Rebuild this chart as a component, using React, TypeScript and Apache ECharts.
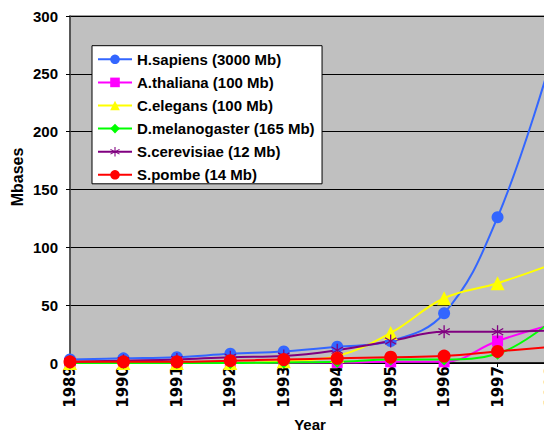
import React, { useEffect, useRef } from 'react';
import * as echarts from 'echarts';

const years = ['1989', '1990', '1991', '1992', '1993', '1994', '1995', '1996', '1997', '1998'];
const hSapiens = [3, 4, 5, 8, 10, 14, 19, 43, 126, 262];
const aThaliana = [0, 0, 0, 0, 0.5, 0.5, 1, 1, 19, 33];
const cElegans = [0, 0, 0, 0, 1.5, 6, 26, 56, 69, 85];
const dMelanogaster = [0, 0, 0, 0, 0.5, 1, 3, 3, 8, 36];
const sCerevisiae = [1, 2, 3, 5, 6, 11, 19, 27, 27, 28];
const sPombe = [1, 1, 1, 2, 3, 4, 5, 6, 10, 14];
const yTicks = { min: 0, max: 300, interval: 50 };

function bar(x1: number, y1: number, x2: number, y2: number, t: number) {
  const dx = x2 - x1, dy = y2 - y1;
  const len = Math.sqrt(dx * dx + dy * dy);
  const nx = (-dy / len) * t, ny = (dx / len) * t;
  const f = (v: number) => v.toFixed(2);
  return `M${f(x1 + nx)},${f(y1 + ny)}L${f(x2 + nx)},${f(y2 + ny)}L${f(x2 - nx)},${f(y2 - ny)}L${f(x1 - nx)},${f(y1 - ny)}Z`;
}
const starPath =
  'path://' +
  bar(10, 0, 10, 20, 1) +
  bar(1.34, 5, 18.66, 15, 1) +
  bar(1.34, 15, 18.66, 5, 1);

const FONT = '"Liberation Sans", Arial, sans-serif';

function mk(name: string, data: number[], color: string, symbol: string, size: number | number[]) {
  return {
    name,
    type: 'line',
    data,
    smooth: 0.4,
    symbol,
    symbolSize: size,
    showAllSymbol: true,
    lineStyle: { color, width: 2 },
    itemStyle: { color },
    emphasis: { disabled: true },
  };
}

export default function App() {
  const ref = useRef<HTMLDivElement>(null);
  useEffect(() => {
    if (!ref.current) return;
    const chart = echarts.init(ref.current, undefined, { renderer: 'svg', width: 551, height: 432 });
    chart.setOption({
      animation: false,
      backgroundColor: '#ffffff',
      grid: {
        left: 70,
        top: 16,
        right: 0,
        bottom: 69,
        containLabel: false,
        outerBoundsMode: 'none',
        show: true,
        backgroundColor: '#c0c0c0',
        borderColor: '#808080',
        borderWidth: 1.5,
      },
      legend: {
        orient: 'vertical',
        left: 92,
        top: 45.7,
        padding: [5.6, 7.5, 1, 5],
        backgroundColor: '#ffffff',
        borderColor: '#000000',
        borderWidth: 1,
        itemWidth: 34,
        itemHeight: 12,
        itemGap: 7.1,
        textStyle: { fontFamily: FONT, fontWeight: 'bold', fontSize: 15, color: '#000', lineHeight: 16 },
        data: [
          'H.sapiens (3000 Mb)',
          'A.thaliana (100 Mb)',
          'C.elegans (100 Mb)',
          'D.melanogaster (165 Mb)',
          'S.cerevisiae (12 Mb)',
          'S.pombe (14 Mb)',
        ],
      },
      xAxis: {
        type: 'category',
        data: years,
        boundaryGap: false,
        axisLine: { show: true, lineStyle: { color: '#000', width: 1.5 } },
        axisTick: { show: true, length: 4, lineStyle: { color: '#000' } },
        axisLabel: {
          rotate: 90,
          margin: 3,
          fontFamily: '"DejaVu Sans", sans-serif',
          fontWeight: 'bold',
          fontSize: 15,
          color: '#000',
          interval: 0,
        },
        splitLine: { show: false },
      },
      yAxis: {
        type: 'value',
        min: yTicks.min,
        max: yTicks.max,
        interval: yTicks.interval,
        axisLine: { show: true, lineStyle: { color: '#404040', width: 1.5 } },
        axisTick: { show: true, length: 4, lineStyle: { color: '#000' } },
        axisLabel: { margin: 12, fontFamily: FONT, fontWeight: 'bold', fontSize: 15, color: '#000' },
        splitLine: { show: true, lineStyle: { color: '#000', width: 1 } },
      },
      graphic: [
        {
          type: 'text',
          x: 17,
          y: 177,
          rotation: Math.PI / 2,
          style: {
            text: 'Mbases',
            font: `bold 16px ${FONT}`,
            fill: '#000',
            textAlign: 'center',
            textVerticalAlign: 'middle',
          },
        },
        {
          type: 'text',
          x: 310,
          y: 431.5,
          style: {
            text: 'Year',
            font: `bold 15px ${FONT}`,
            fill: '#000',
            textAlign: 'center',
            textVerticalAlign: 'bottom',
          },
        },
      ],
      series: [
        mk('H.sapiens (3000 Mb)', hSapiens, '#3366ff', 'circle', 12),
        mk('A.thaliana (100 Mb)', aThaliana, '#ff00ff', 'rect', 11),
        mk('C.elegans (100 Mb)', cElegans, '#ffff00', 'triangle', 14),
        mk('D.melanogaster (165 Mb)', dMelanogaster, '#00ff00', 'diamond', 12),
        mk('S.cerevisiae (12 Mb)', sCerevisiae, '#800080', starPath, [12, 13]),
        mk('S.pombe (14 Mb)', sPombe, '#ff0000', 'circle', 13),
      ],
    });
    return () => chart.dispose();
  }, []);
  return (
    <div style={{ position: 'absolute', left: 0, top: 0, width: 544, height: 432, overflow: 'hidden' }}>
      <div ref={ref} style={{ position: 'absolute', left: 0, top: 0, width: 551, height: 432 }} />
    </div>
  );
}
